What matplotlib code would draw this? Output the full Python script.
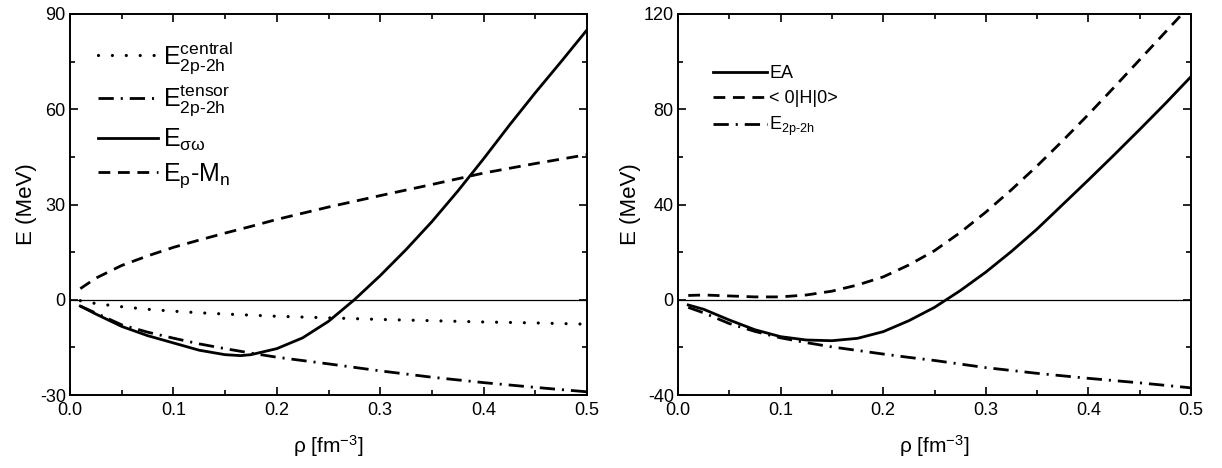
import matplotlib
matplotlib.use("Agg")
import matplotlib.pyplot as plt
from matplotlib.ticker import MultipleLocator, FormatStrFormatter

plt.rcParams['font.family'] = ['Liberation Sans', 'DejaVu Sans']
plt.rcParams['mathtext.fontset'] = 'custom'
plt.rcParams['mathtext.rm'] = 'Liberation Sans'
plt.rcParams['mathtext.it'] = 'Liberation Sans:italic'
plt.rcParams['mathtext.bf'] = 'Liberation Sans:bold'
plt.rcParams['lines.scale_dashes'] = False
plt.rcParams['axes.unicode_minus'] = False

# ---------------- left panel data ----------------
rho_central = [0.01, 0.025, 0.05, 0.075, 0.1, 0.125, 0.15, 0.2, 0.25, 0.3, 0.35, 0.4, 0.45, 0.5]
e_central = [-0.3, -1.2, -2.2, -3.0, -3.6, -4.1, -4.5, -5.2, -5.7, -6.2, -6.6, -7.0, -7.3, -7.7]

rho_tensor = [0.01, 0.025, 0.05, 0.075, 0.1, 0.125, 0.15, 0.175, 0.2, 0.25, 0.3, 0.35, 0.4, 0.45, 0.5]
e_tensor = [-2.0, -4.2, -7.9, -10.2, -12.1, -13.9, -15.4, -16.8, -18.1, -20.2, -22.4, -24.4, -26.1, -27.6, -29.0]

rho_sw = [0.01, 0.025, 0.05, 0.075, 0.1, 0.125, 0.15, 0.165, 0.175, 0.2, 0.225, 0.25, 0.275,
          0.3, 0.325, 0.35, 0.375, 0.4, 0.425, 0.45, 0.475, 0.5]
e_sw = [-2.0, -4.5, -8.4, -11.3, -13.6, -15.9, -17.3, -17.6, -17.3, -15.4, -12.0, -6.8, 0.0,
        7.6, 15.8, 24.6, 34.2, 44.4, 55.0, 65.2, 75.0, 85.0]

rho_pm = [0.01, 0.025, 0.05, 0.075, 0.1, 0.125, 0.15, 0.175, 0.2, 0.25, 0.3, 0.35, 0.4, 0.45, 0.5]
e_pm = [3.5, 6.8, 10.8, 13.8, 16.5, 18.8, 21.0, 23.1, 25.3, 29.2, 32.8, 36.3, 39.9, 42.9, 45.7]

# ---------------- right panel data ----------------
rho_ea = [0.01, 0.025, 0.05, 0.075, 0.1, 0.125, 0.15, 0.175, 0.2, 0.225, 0.25, 0.275,
          0.3, 0.325, 0.35, 0.375, 0.4, 0.425, 0.45, 0.475, 0.5]
e_ea = [-2.2, -4.0, -8.5, -12.6, -15.5, -16.9, -17.2, -16.2, -13.4, -8.8, -3.2, 3.8,
        11.6, 20.3, 29.7, 40.0, 50.3, 60.8, 71.5, 82.4, 93.7]

rho_h = [0.01, 0.025, 0.05, 0.075, 0.1, 0.125, 0.15, 0.175, 0.2, 0.225, 0.25, 0.275,
         0.3, 0.325, 0.35, 0.375, 0.4, 0.425, 0.45, 0.475, 0.5]
e_h = [1.8, 2.0, 1.6, 1.2, 1.2, 2.0, 3.6, 6.2, 9.6, 14.6, 20.6, 28.2,
       36.8, 46.2, 56.2, 66.8, 77.8, 89.2, 100.8, 112.4, 124.0]

rho_2p2h = [0.01, 0.025, 0.05, 0.075, 0.1, 0.125, 0.15, 0.175, 0.2, 0.225, 0.25, 0.3, 0.35, 0.4, 0.45, 0.5]
e_2p2h = [-3.2, -5.5, -10.0, -13.3, -16.0, -18.0, -19.8, -21.3, -22.8, -24.2, -25.5, -28.5, -30.9, -33.0, -34.9, -37.0]

left_labels = [r'$\mathregular{E^{central}_{2p\text{-}2h}}$',
               r'$\mathregular{E^{tensor}_{2p\text{-}2h}}$',
               r'$\mathregular{E_{σω}}$',
               r'$\mathregular{E_{p}\text{-}M_{n}}$']
right_labels = ['EA', '< 0|H|0>', r'$\mathregular{E_{2p\text{-}2h}}$']

W, H = 1222, 468
fig = plt.figure(figsize=(W / 100, H / 100), dpi=100)

def box(x0, x1, y0, y1):
    return [x0 / W, 1 - y1 / H, (x1 - x0) / W, (y1 - y0) / H]

axL = fig.add_axes(box(70, 587, 14, 395))
axR = fig.add_axes(box(678, 1191, 14, 395))

LW = 2.0
dotted = dict(color='black', lw=2.3, linestyle=(0, (0.01, 10)), dash_capstyle='round')
dashdot = dict(color='black', lw=LW, linestyle=(0, (11, 5, 1.5, 5)))
solid = dict(color='black', lw=LW)
dashed = dict(color='black', lw=LW, linestyle=(0, (8.5, 5.5)))

axL.plot(rho_central, e_central, label=left_labels[0], **dotted)
axL.plot(rho_tensor, e_tensor, label=left_labels[1], **dashdot)
axL.plot(rho_sw, e_sw, label=left_labels[2], **solid)
axL.plot(rho_pm, e_pm, label=left_labels[3], **dashed)

axR.plot(rho_ea, e_ea, label=right_labels[0], **solid)
axR.plot(rho_h, e_h, label=right_labels[1], **dashed)
axR.plot(rho_2p2h, e_2p2h, label=right_labels[2], **dashdot)

for ax, ylim, ymaj, ymin in [(axL, (-30, 90), 30, 15), (axR, (-40, 120), 40, 20)]:
    ax.axhline(0, color='black', lw=0.9, zorder=1)
    ax.set_xlim(0.0, 0.5)
    ax.set_ylim(*ylim)
    ax.xaxis.set_major_locator(MultipleLocator(0.1))
    ax.xaxis.set_minor_locator(MultipleLocator(0.05))
    ax.xaxis.set_major_formatter(FormatStrFormatter('%.1f'))
    ax.yaxis.set_major_locator(MultipleLocator(ymaj))
    ax.yaxis.set_minor_locator(MultipleLocator(ymin))
    ax.tick_params(which='both', direction='in', top=True, right=True, width=1.2, labelsize=13)
    ax.tick_params(which='major', length=6)
    ax.tick_params(which='minor', length=3.5)
    ax.tick_params(axis='x', pad=5)
    ax.tick_params(axis='y', pad=3)
    for s in ax.spines.values():
        s.set_linewidth(1.4)
    ax.set_xlabel('ρ [fm$^{\\mathregular{-3}}$]', fontsize=15, labelpad=10)
    ax.set_ylabel('E (MeV)', fontsize=16, labelpad=2)

axL.legend(loc='upper left', frameon=False, fontsize=18, handlelength=2.4, handletextpad=0.2,
           labelspacing=0.32, bbox_to_anchor=(0.035, 0.96), borderaxespad=0)
axR.legend(loc='upper left', frameon=False, fontsize=13, handlelength=2.95, handletextpad=0.15,
           labelspacing=0.45, bbox_to_anchor=(0.055, 0.885), borderaxespad=0)

fig.savefig('out.png', dpi=100)
